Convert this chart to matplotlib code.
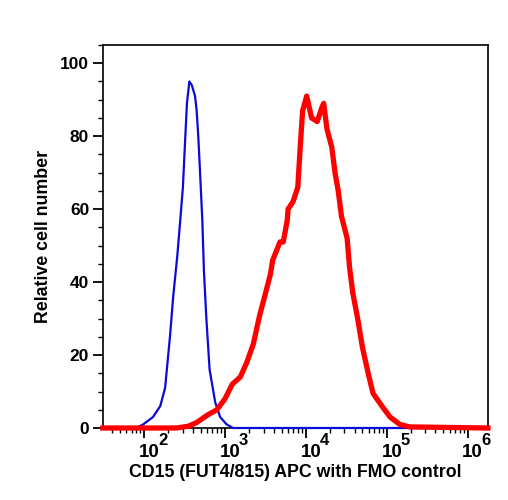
import numpy as np
import matplotlib
matplotlib.use('Agg')
import matplotlib.pyplot as plt
from matplotlib.ticker import LogLocator, FixedLocator, MultipleLocator, NullFormatter

plt.rcParams['font.family'] = 'Liberation Sans'
plt.rcParams['font.weight'] = 'bold'

# FMO control (blue), log10 of intensity vs relative count
fmo_log = [1.49, 1.90, 1.99, 2.11, 2.20, 2.26, 2.32, 2.36, 2.41, 2.44, 2.48, 2.51,
           2.53, 2.56, 2.59, 2.63, 2.65, 2.67, 2.69, 2.72, 2.74, 2.77, 2.81,
           2.88, 2.94, 3.02, 3.10, 6.25]
fmo_cnt = [0, 0, 1, 3, 6, 11, 25, 36, 47, 55, 66, 80,
           89, 95, 94, 91, 87, 80, 71, 57, 43, 30, 16,
           7, 3, 1, 0, 0]

# CD15 stained (red)
cd15_log = [1.49, 2.40, 2.55, 2.65, 2.78, 2.90, 3.00, 3.09, 3.19, 3.27, 3.35, 3.43,
            3.49, 3.56, 3.59, 3.68, 3.72, 3.77, 3.78, 3.84, 3.90, 3.93, 3.96,
            4.01, 4.07, 4.14, 4.20, 4.22, 4.26, 4.32, 4.36, 4.40, 4.44, 4.51,
            4.54, 4.58, 4.64, 4.70, 4.77, 4.83, 4.94, 5.04, 5.16, 5.28, 6.25]
cd15_cnt = [0, 0, 0.5, 1.5, 3.5, 5, 8, 12, 14, 18, 23, 31,
            36, 42, 46, 51, 51, 57, 60, 62, 66, 77, 87,
            91, 85, 84, 88, 89, 82, 77, 70, 65, 58, 52,
            44, 37, 30, 22, 15, 9.5, 6, 3, 1, 0.3, 0]

decades = [2, 3, 4, 5, 6]

fig = plt.figure(figsize=(5.08, 5.0), dpi=100)
ax = fig.add_axes([0.203, 0.144, 0.757, 0.766])

ax.plot(10 ** np.array(fmo_log), fmo_cnt, color='#0a0adc', lw=1.6, clip_on=False, zorder=3)
ax.plot(10 ** np.array(cd15_log), cd15_cnt, color='#ff0000', lw=3.8, clip_on=False, zorder=4)

ax.set_xscale('log')
ax.set_xlim(10 ** 1.494, 10 ** 6.247)
ax.set_ylim(0, 105)

ax.xaxis.set_major_locator(FixedLocator([10.0 ** d for d in decades]))
ax.xaxis.set_minor_locator(LogLocator(base=10, subs=np.arange(2, 10), numticks=20))
ax.xaxis.set_major_formatter(NullFormatter())
ax.xaxis.set_minor_formatter(NullFormatter())
ax.yaxis.set_major_locator(MultipleLocator(20))
ax.yaxis.set_minor_locator(MultipleLocator(5))

ax.tick_params(which='major', direction='out', length=7, width=1.3, labelsize=12.5, pad=3)
ax.tick_params(which='minor', direction='out', length=3.5, width=1.0)

# decade labels drawn as "10" with a large exponent, like the cytometer software
for d in decades:
    ax.annotate('10', xy=(10.0 ** d, 0), xycoords=('data', 'axes fraction'),
                xytext=(5, -29), textcoords='offset pixels', ha='center', va='baseline',
                fontsize=13.5, fontweight='bold', annotation_clip=False)
    ax.annotate(str(d), xy=(10.0 ** d, 0), xycoords=('data', 'axes fraction'),
                xytext=(14, -17), textcoords='offset pixels', ha='left', va='baseline',
                fontsize=12, fontweight='bold', annotation_clip=False)

for s in ax.spines.values():
    s.set_linewidth(1.2)

ax.set_xlabel('CD15 (FUT4/815) APC with FMO control', fontsize=12.8, fontweight='bold')
ax.xaxis.set_label_coords(0.5, -0.094)
ax.set_ylabel('Relative cell number', fontsize=12.8, fontweight='bold', labelpad=6)

fig.savefig('out.png', dpi=100)
